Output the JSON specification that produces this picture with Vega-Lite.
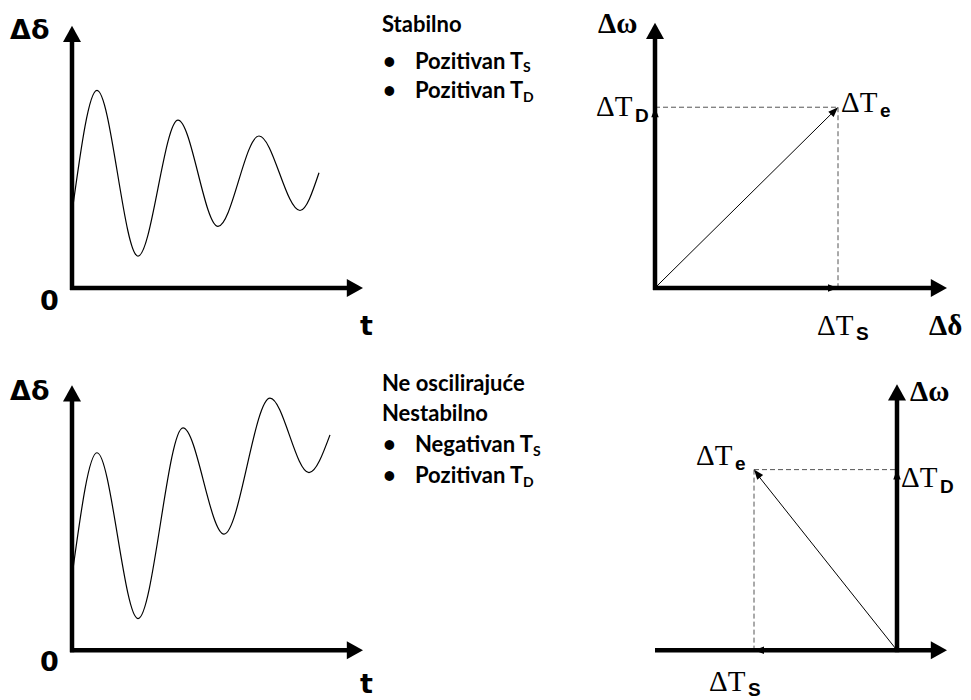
{
  "$schema": "https://vega.github.io/schema/vega-lite/v6.json",
  "width": 971,
  "height": 700,
  "autosize": {"type": "fit", "contains": "padding"},
  "padding": 0,
  "background": "white",
  "config": {"view": {"stroke": null}},
  "datasets": {
    "dashed": [
      {"panel": "TR", "x": 655, "y": 108, "x2": 838, "y2": 108},
      {"panel": "TR", "x": 838, "y": 108, "x2": 838, "y2": 290},
      {"panel": "BR", "x": 754, "y": 473, "x2": 897, "y2": 473},
      {"panel": "BR", "x": 754, "y": 473, "x2": 754, "y2": 655}
    ],
    "vectors": [
      {"panel": "TR", "x": 655, "y": 290, "x2": 836, "y2": 110},
      {"panel": "BR", "x": 897, "y": 655, "x2": 755, "y2": 475}
    ],
    "axes": [
      {"panel": "TL", "x": 72, "y": 292, "x2": 72, "y2": 36},
      {"panel": "TL", "x": 70, "y": 290, "x2": 350, "y2": 290},
      {"panel": "TR", "x": 655, "y": 292, "x2": 655, "y2": 34},
      {"panel": "TR", "x": 653, "y": 290, "x2": 934, "y2": 290},
      {"panel": "BL", "x": 72, "y": 657, "x2": 72, "y2": 398},
      {"panel": "BL", "x": 70, "y": 655, "x2": 350, "y2": 655},
      {"panel": "BR", "x": 897, "y": 657, "x2": 897, "y2": 398},
      {"panel": "BR", "x": 655, "y": 655, "x2": 934, "y2": 655}
    ],
    "bigheads": [
      {"panel": "TL", "x": 72, "y": 26, "dir": "up"},
      {"panel": "TL", "x": 363, "y": 290, "dir": "right"},
      {"panel": "TR", "x": 655, "y": 23, "dir": "up"},
      {"panel": "TR", "x": 947, "y": 290, "dir": "right"},
      {"panel": "BL", "x": 72, "y": 388, "dir": "up"},
      {"panel": "BL", "x": 363, "y": 655, "dir": "right"},
      {"panel": "BR", "x": 897, "y": 387, "dir": "up"},
      {"panel": "BR", "x": 947, "y": 655, "dir": "right"}
    ],
    "smallheads": [
      {"panel": "TR", "x": 838, "y": 290, "dir": "s-right"},
      {"panel": "TR", "x": 655, "y": 108, "dir": "s-up"},
      {"panel": "TR", "x": 838, "y": 108, "dir": "s-ne"},
      {"panel": "BR", "x": 754, "y": 655, "dir": "s-left"},
      {"panel": "BR", "x": 897, "y": 473, "dir": "s-up"},
      {"panel": "BR", "x": 754, "y": 473, "dir": "s-nw"}
    ],
    "curves": [
      {"series": "stabilno", "t": 73, "d": 207},
      {"series": "stabilno", "t": 97, "d": 91},
      {"series": "stabilno", "t": 138, "d": 258},
      {"series": "stabilno", "t": 178, "d": 121},
      {"series": "stabilno", "t": 218, "d": 228},
      {"series": "stabilno", "t": 259, "d": 137},
      {"series": "stabilno", "t": 300, "d": 212},
      {"series": "stabilno", "t": 319, "d": 174},
      {"series": "nestabilno", "t": 73, "d": 573},
      {"series": "nestabilno", "t": 97, "d": 456},
      {"series": "nestabilno", "t": 138, "d": 623},
      {"series": "nestabilno", "t": 183, "d": 431},
      {"series": "nestabilno", "t": 224, "d": 538},
      {"series": "nestabilno", "t": 270, "d": 401},
      {"series": "nestabilno", "t": 309, "d": 476},
      {"series": "nestabilno", "t": 330, "d": 438}
    ],
    "labels": [
      {"kind": "axis", "x": 10, "y": 39, "label": "Δδ"},
      {"kind": "axis", "x": 40, "y": 312, "label": "0"},
      {"kind": "axis", "x": 360, "y": 337, "label": "t"},
      {"kind": "axis", "x": 10, "y": 403, "label": "Δδ"},
      {"kind": "axis", "x": 40, "y": 676, "label": "0"},
      {"kind": "axis", "x": 360, "y": 698, "label": "t"},
      {"kind": "sym", "x": 598, "y": 33, "label": "Δω"},
      {"kind": "sym", "x": 929, "y": 337, "label": "Δδ"},
      {"kind": "sym", "x": 910, "y": 404, "label": "Δω"},
      {"kind": "big", "x": 596, "y": 117, "label": "ΔT"},
      {"kind": "big", "x": 841, "y": 113, "label": "ΔT"},
      {"kind": "big", "x": 817, "y": 337, "label": "ΔT"},
      {"kind": "big", "x": 696, "y": 468, "label": "ΔT"},
      {"kind": "big", "x": 901, "y": 491, "label": "ΔT"},
      {"kind": "big", "x": 709, "y": 696, "label": "ΔT"},
      {"kind": "sub", "x": 635, "y": 123, "label": "D"},
      {"kind": "sub", "x": 880, "y": 118, "label": "e"},
      {"kind": "sub", "x": 856, "y": 342, "label": "S"},
      {"kind": "sub", "x": 735, "y": 473, "label": "e"},
      {"kind": "sub", "x": 940, "y": 497, "label": "D"},
      {"kind": "sub", "x": 748, "y": 701, "label": "S"},
      {"kind": "note", "x": 382, "y": 32, "label": "Stabilno"},
      {"kind": "note", "x": 383, "y": 69, "label": "•"},
      {"kind": "note", "x": 415, "y": 69, "label": "Pozitivan T"},
      {"kind": "note", "x": 383, "y": 99, "label": "•"},
      {"kind": "note", "x": 415, "y": 99, "label": "Pozitivan T"},
      {"kind": "note", "x": 382, "y": 394, "label": "Ne oscilirajuće"},
      {"kind": "note", "x": 382, "y": 424, "label": "Nestabilno"},
      {"kind": "note", "x": 383, "y": 455, "label": "•"},
      {"kind": "note", "x": 415, "y": 455, "label": "Negativan T"},
      {"kind": "note", "x": 383, "y": 486, "label": "•"},
      {"kind": "note", "x": 415, "y": 486, "label": "Pozitivan T"},
      {"kind": "notesub", "x": 523, "y": 73, "label": "S"},
      {"kind": "notesub", "x": 523, "y": 103, "label": "D"},
      {"kind": "notesub", "x": 533, "y": 459, "label": "S"},
      {"kind": "notesub", "x": 523, "y": 490, "label": "D"}
    ]
  },
  "encoding": {
    "x": {"type": "quantitative", "scale": {"domain": [0, 971], "nice": false, "zero": false}, "axis": null},
    "y": {"type": "quantitative", "scale": {"domain": [0, 700], "nice": false, "zero": false, "reverse": true}, "axis": null}
  },
  "layer": [
    {
      "data": {"name": "dashed"},
      "mark": {"type": "rule", "color": "#555555", "strokeWidth": 1, "strokeDash": [5, 3]},
      "encoding": {"x": {"field": "x"}, "y": {"field": "y"}, "x2": {"field": "x2"}, "y2": {"field": "y2"}}
    },
    {
      "data": {"name": "vectors"},
      "mark": {"type": "rule", "color": "black", "strokeWidth": 1},
      "encoding": {"x": {"field": "x"}, "y": {"field": "y"}, "x2": {"field": "x2"}, "y2": {"field": "y2"}}
    },
    {
      "data": {"name": "axes"},
      "mark": {"type": "rule", "color": "black", "strokeWidth": 4.5},
      "encoding": {"x": {"field": "x"}, "y": {"field": "y"}, "x2": {"field": "x2"}, "y2": {"field": "y2"}}
    },
    {
      "data": {"name": "bigheads"},
      "mark": {"type": "point", "filled": true, "color": "black", "opacity": 1, "size": 324, "strokeWidth": 0},
      "encoding": {
        "x": {"field": "x"}, "y": {"field": "y"},
        "shape": {"field": "dir", "type": "nominal", "legend": null,
          "scale": {"domain": ["up", "right", "s-up", "s-right", "s-left", "s-ne", "s-nw"],
            "range": ["M0,0L-1,1.8L1,1.8Z", "M0,0L-1.8,-1L-1.8,1Z", "M0,0L-0.75,2L0.75,2Z", "M0,0L-2,-0.75L-2,0.75Z", "M0,0L2,-0.75L2,0.75Z", "M0,0L-0.88,1.94L-1.94,0.88Z", "M0,0L1.83,1.1L0.65,2.02Z"]}}
      }
    },
    {
      "data": {"name": "smallheads"},
      "mark": {"type": "point", "filled": true, "color": "black", "opacity": 1, "size": 100, "strokeWidth": 0},
      "encoding": {
        "x": {"field": "x"}, "y": {"field": "y"},
        "shape": {"field": "dir", "type": "nominal", "legend": null,
          "scale": {"domain": ["up", "right", "s-up", "s-right", "s-left", "s-ne", "s-nw"],
            "range": ["M0,0L-1,1.8L1,1.8Z", "M0,0L-1.8,-1L-1.8,1Z", "M0,0L-0.75,2L0.75,2Z", "M0,0L-2,-0.75L-2,0.75Z", "M0,0L2,-0.75L2,0.75Z", "M0,0L-0.88,1.94L-1.94,0.88Z", "M0,0L1.83,1.1L0.65,2.02Z"]}}
      }
    },
    {
      "data": {"name": "curves"},
      "mark": {"type": "line", "color": "black", "strokeWidth": 1.2, "interpolate": "monotone"},
      "encoding": {"x": {"field": "t"}, "y": {"field": "d"}, "detail": {"field": "series"}}
    },
    {
      "data": {"name": "labels"},
      "transform": [{"filter": "datum.kind === 'axis'"}],
      "mark": {"type": "text", "align": "left", "baseline": "alphabetic", "font": "DejaVu Sans", "fontWeight": "bold", "fontSize": 27, "color": "black"},
      "encoding": {"x": {"field": "x"}, "y": {"field": "y"}, "text": {"field": "label"}}
    },
    {
      "data": {"name": "labels"},
      "transform": [{"filter": "datum.kind === 'sym'"}],
      "mark": {"type": "text", "align": "left", "baseline": "alphabetic", "font": "Liberation Serif", "fontWeight": "bold", "fontSize": 29, "color": "black"},
      "encoding": {"x": {"field": "x"}, "y": {"field": "y"}, "text": {"field": "label"}}
    },
    {
      "data": {"name": "labels"},
      "transform": [{"filter": "datum.kind === 'big'"}],
      "mark": {"type": "text", "align": "left", "baseline": "alphabetic", "font": "Liberation Serif", "fontSize": 29, "color": "black"},
      "encoding": {"x": {"field": "x"}, "y": {"field": "y"}, "text": {"field": "label"}}
    },
    {
      "data": {"name": "labels"},
      "transform": [{"filter": "datum.kind === 'sub'"}],
      "mark": {"type": "text", "align": "left", "baseline": "alphabetic", "font": "Liberation Sans", "fontWeight": "bold", "fontSize": 19, "color": "black"},
      "encoding": {"x": {"field": "x"}, "y": {"field": "y"}, "text": {"field": "label"}}
    },
    {
      "data": {"name": "labels"},
      "transform": [{"filter": "datum.kind === 'note'"}],
      "mark": {"type": "text", "align": "left", "baseline": "alphabetic", "font": "Lato", "fontWeight": "bold", "fontSize": 22, "color": "black"},
      "encoding": {"x": {"field": "x"}, "y": {"field": "y"}, "text": {"field": "label"}}
    },
    {
      "data": {"name": "labels"},
      "transform": [{"filter": "datum.kind === 'notesub'"}],
      "mark": {"type": "text", "align": "left", "baseline": "alphabetic", "font": "Lato", "fontWeight": "bold", "fontSize": 14, "color": "black"},
      "encoding": {"x": {"field": "x"}, "y": {"field": "y"}, "text": {"field": "label"}}
    }
  ]
}
